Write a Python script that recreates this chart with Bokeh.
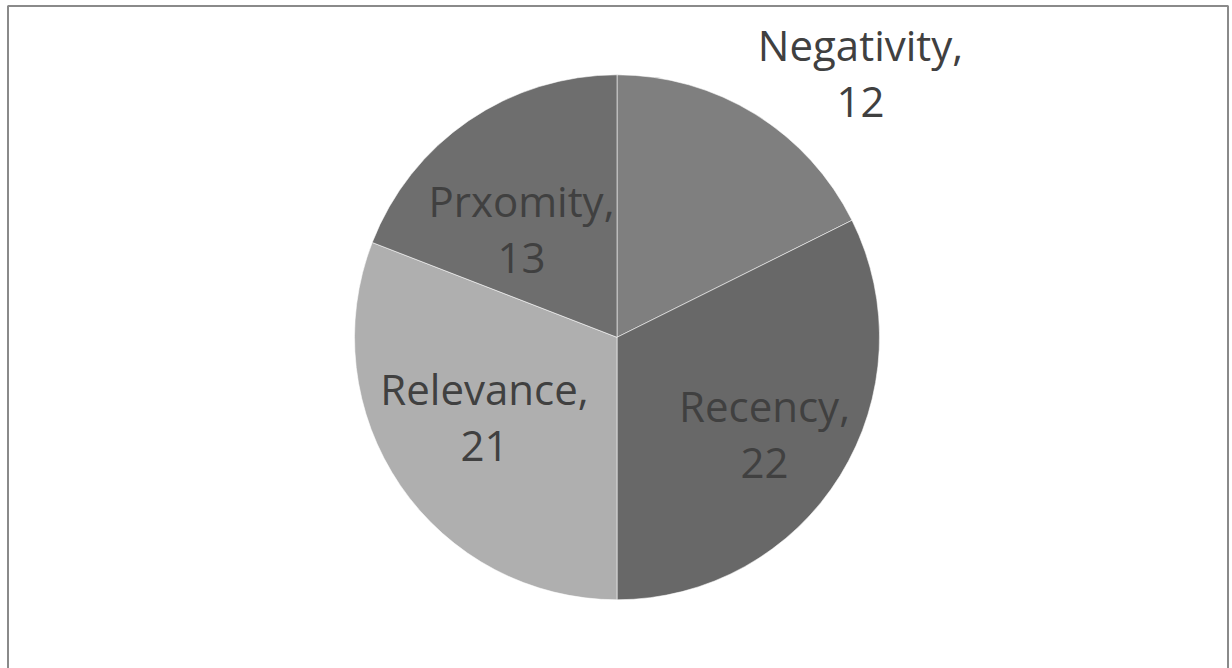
import math
from bokeh.plotting import figure
from bokeh.models import Range1d, ColumnDataSource
from bokeh.core.properties import value
from bokeh.embed import file_html
from bokeh.resources import INLINE

# ---- data ----
categories = ["Negativity", "Recency", "Relevance", "Prxomity"]
values = [12, 22, 21, 13]
colors = ["#7f7f7f", "#686868", "#afafaf", "#6e6e6e"]

# ---- layout (screen pixels, y downward) ----
W, H = 1232, 668
CX, CY, R = 616.5, 336.8, 262.5
# label anchor (center x, baseline of first line) per category
label_pos = [(860, 62), (764, 423), (484, 406), (521, 218)]
LINE_GAP = 57
BASELINE_FIX = -18

p = figure(width=W, height=H, output_backend="svg", toolbar_location=None,
           x_range=Range1d(0, W), y_range=Range1d(0, H), min_border=0)
p.axis.visible = False
p.grid.visible = False
p.outline_line_color = None
p.background_fill_color = "white"
p.border_fill_color = "white"

# chart frame
p.quad(left=[7.5], right=[1227.5], top=[H - 5.5], bottom=[-10],
       fill_color=None, line_color="#8a8a8a", line_width=2)

total = sum(values)
starts, ends = [], []
cum = 0
for v in values:
    starts.append(math.pi / 2 - 2 * math.pi * cum / total)
    cum += v
    ends.append(math.pi / 2 - 2 * math.pi * cum / total)

src = ColumnDataSource(dict(start=starts, end=ends, color=colors, cat=categories, val=values))
p.wedge(x=CX, y=H - CY, radius=R, radius_units="screen",
        start_angle="start", end_angle="end", direction="clock",
        fill_color="color", line_color="white", line_width=1, line_alpha=0.55,
        source=src)

xs, ys, texts = [], [], []
for (lx, ly), c, v in zip(label_pos, categories, values):
    ly = ly + BASELINE_FIX
    xs += [lx, lx]
    ys += [H - ly, H - ly - LINE_GAP]
    texts += [c + ",", str(v)]

p.text(x=xs, y=ys, text=texts, text_align="center", text_baseline="alphabetic",
       text_font=value("Open Sans"), text_font_size="42px", text_color="#404040")

open("out.html", "w").write(file_html(p, INLINE))
